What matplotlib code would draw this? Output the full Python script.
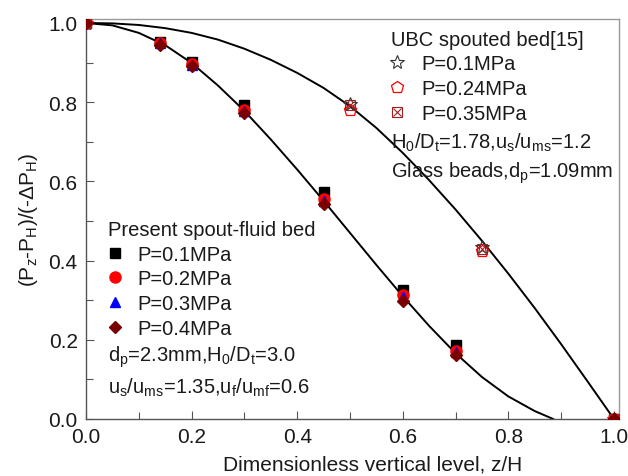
import matplotlib
matplotlib.use("Agg")
import matplotlib.pyplot as plt
from matplotlib.legend_handler import HandlerTuple

plt.rcParams['font.family'] = ['Liberation Sans', 'DejaVu Sans']
plt.rcParams['mathtext.fontset'] = 'custom'
plt.rcParams['mathtext.rm'] = 'Liberation Sans'
plt.rcParams['mathtext.it'] = 'Liberation Sans'
plt.rcParams['mathtext.default'] = 'regular'

# ---------------- data ----------------
z_present = [0.0, 0.14, 0.2, 0.3, 0.45, 0.6, 0.7, 1.0]
p01 = [1.0, 0.952, 0.902, 0.792, 0.572, 0.325, 0.188, 0.0]
p02 = [1.0, 0.950, 0.897, 0.780, 0.555, 0.313, 0.172, 0.0]
p03 = [1.0, 0.950, 0.895, 0.778, 0.550, 0.308, 0.170, 0.0]
p04 = [1.0, 0.945, 0.892, 0.773, 0.543, 0.298, 0.162, 0.0]

z_ubc = [0.0, 0.5, 0.75, 1.0]
u01 = [1.0, 0.795, 0.435, 0.0]
u024 = [1.0, 0.780, 0.425, 0.0]
u035 = [1.0, 0.792, 0.430, 0.0]

# model curves
curve1_z = [0.0, 0.05, 0.1, 0.15, 0.2, 0.25, 0.3, 0.35, 0.4, 0.45, 0.5,
            0.55, 0.6, 0.65, 0.7, 0.75, 0.8, 0.85, 0.885]
curve1_y = [1.0, 0.994, 0.975, 0.944, 0.899, 0.842, 0.778, 0.706, 0.630,
            0.551, 0.470, 0.389, 0.310, 0.235, 0.166, 0.106, 0.057, 0.020, 0.0]
curve2_z = [0.0, 0.05, 0.1, 0.15, 0.2, 0.25, 0.3, 0.35, 0.4, 0.45, 0.5,
            0.55, 0.6, 0.65, 0.7, 0.75, 0.8, 0.85, 0.9, 0.95, 1.0]
curve2_y = [1.0, 0.999, 0.995, 0.987, 0.975, 0.958, 0.935, 0.907, 0.874,
            0.836, 0.790, 0.735, 0.672, 0.603, 0.529, 0.450, 0.367, 0.280,
            0.189, 0.095, 0.0]

xticks = [0.0, 0.2, 0.4, 0.6, 0.8, 1.0]
yticks = [0.0, 0.2, 0.4, 0.6, 0.8, 1.0]

TXT = '#1a1a1a'
FS = 14.5

# ---------------- figure ----------------
fig = plt.figure(figsize=(6.28, 4.77), dpi=100)
ax = fig.add_axes([0.137, 0.1195, 0.849, 0.8385])

ax.plot(curve1_z, curve1_y, color='black', lw=1.4, zorder=2)
ax.plot(curve2_z, curve2_y, color='black', lw=1.4, zorder=2)

ms = 7
h01, = ax.plot(z_present, p01, 's', color='black', ms=ms, ls='none', zorder=3)
h02, = ax.plot(z_present, p02, 'o', color='red', ms=ms + 1, ls='none', zorder=3)
h03, = ax.plot(z_present, p03, '^', color='blue', ms=ms, ls='none', zorder=3)
h04, = ax.plot(z_present, p04, 'D', color='#7a0000', ms=ms - 0.5, ls='none', zorder=4)

hu1, = ax.plot(z_ubc, u01, '*', mfc='none', mec='#333333', mew=0.8, ms=10, ls='none', zorder=3)
hu2, = ax.plot(z_ubc, u024, 'p', mfc='none', mec='red', mew=0.9, ms=9, ls='none', zorder=3)
hu3a, = ax.plot(z_ubc, u035, 's', mfc='none', mec='#a02020', mew=0.8, ms=7, ls='none', zorder=3)
hu3b, = ax.plot(z_ubc, u035, 'x', color='#a02020', mew=0.8, ms=6, ls='none', zorder=3)

ax.set_xlim(0, 1.01)
ax.set_ylim(0, 1.01)
ax.set_xticks(xticks)
ax.set_yticks(yticks)
ax.set_xticks([0.1, 0.3, 0.5, 0.7, 0.9], minor=True)
ax.set_yticks([0.1, 0.3, 0.5, 0.7, 0.9], minor=True)
ax.set_xticklabels([f"{v:.1f}" for v in xticks])
ax.set_yticklabels([f"{v:.1f}" for v in yticks])
ax.tick_params(which='both', direction='in', color='#555555', labelsize=15,
               labelcolor=TXT, pad=6)
ax.tick_params(which='major', length=6, width=0.8)
ax.tick_params(which='minor', length=5, width=0.8)

for s in ['left', 'bottom']:
    ax.spines[s].set_color('#555555')
    ax.spines[s].set_linewidth(1.0)
for s in ['top', 'right']:
    ax.spines[s].set_color('#999999')
    ax.spines[s].set_linewidth(1.0)

ax.set_xlabel('Dimensionless vertical level, z/H', fontsize=15, color=TXT)
ax.xaxis.set_label_coords(0.537, -0.088)
ax.set_ylabel(r'(P$_z$-P$_H$)/(-$\Delta$P$_H$)', fontsize=15, color=TXT, labelpad=6)

# legends
leg1 = ax.legend([h01, h02, h03, h04],
                 ['P=0.1MPa', 'P=0.2MPa', 'P=0.3MPa', 'P=0.4MPa'],
                 title='Present spout-fluid bed', title_fontsize=FS,
                 fontsize=FS, frameon=False, loc='upper left',
                 bbox_to_anchor=(0.041, 0.4975), borderpad=0, borderaxespad=0,
                 handlelength=0.7, handletextpad=0.75, labelspacing=0.28,
                 alignment='left')
ax.add_artist(leg1)

leg2 = ax.legend([hu1, hu2, (hu3a, hu3b)],
                 ['P=0.1MPa', 'P=0.24MPa', 'P=0.35MPa'],
                 handler_map={tuple: HandlerTuple(ndivide=1)},
                 title='UBC spouted bed[15]', title_fontsize=FS,
                 fontsize=FS, frameon=False, loc='upper left',
                 bbox_to_anchor=(0.572, 0.9735), borderpad=0, borderaxespad=0,
                 handlelength=0.6, handletextpad=0.9, labelspacing=0.28,
                 alignment='left')
for t in leg1.get_texts() + leg2.get_texts():
    t.set_color(TXT)
leg1.get_title().set_color(TXT)
leg2.get_title().set_color(TXT)

ax.text(0.041, 0.146, r'd$_p$=2.3mm,H$_0$/D$_t$=3.0', transform=ax.transAxes,
        fontsize=FS, color=TXT, va='baseline', ha='left')
ax.text(0.041, 0.065, r'u$_s$/u$_{ms}$=1.35,u$_f$/u$_{mf}$=0.6', transform=ax.transAxes,
        fontsize=FS, color=TXT, va='baseline', ha='left')
ax.text(0.572, 0.678, r'H$_0$/D$_t$=1.78,u$_s$/u$_{ms}$=1.2', transform=ax.transAxes,
        fontsize=FS, color=TXT, va='baseline', ha='left')
ax.text(0.572, 0.606, r'Glass beads,d$_p$=1.09mm', transform=ax.transAxes,
        fontsize=FS, color=TXT, va='baseline', ha='left')

fig.savefig('out.png', dpi=100)
